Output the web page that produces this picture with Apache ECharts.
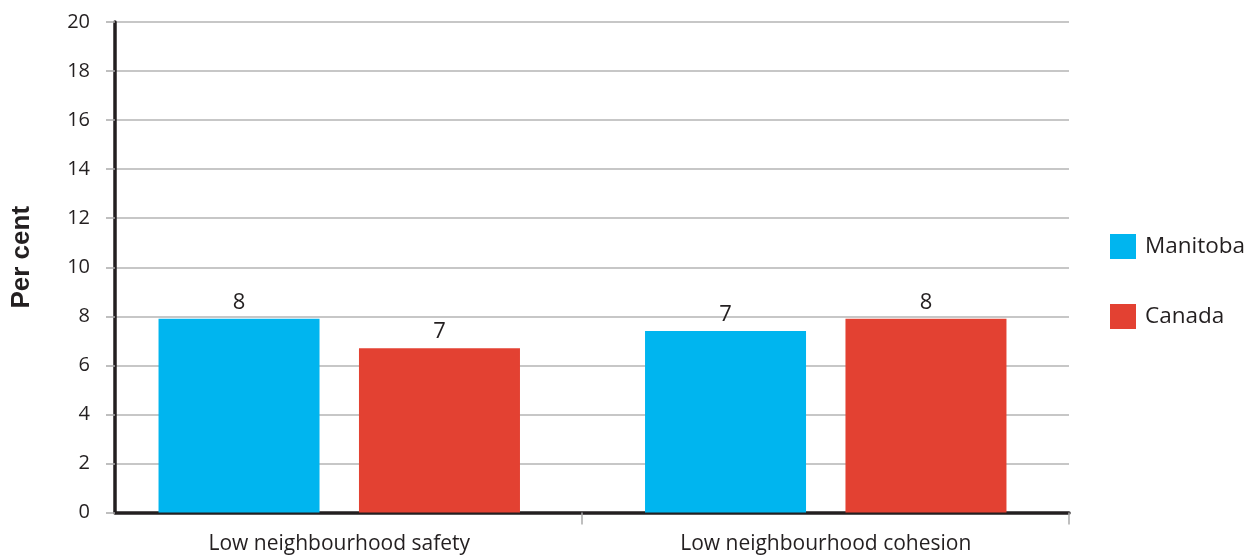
<!DOCTYPE html>
<html>
<head>
<meta charset="utf-8">
<script src="https://cdn.jsdelivr.net/npm/echarts@6/dist/echarts.min.js"></script>
<style>html,body{margin:0;padding:0;background:#fff}#c{width:1260px;height:557px}</style>
</head>
<body>
<div id="c"></div>
<script>
const categories = ['Low neighbourhood safety', 'Low neighbourhood cohesion'];
const seriesNames = ['Manitoba', 'Canada'];
const manitoba = [7.9, 7.4];
const canada = [6.7, 7.9];
const yTicks = [0, 2, 4, 6, 8, 10, 12, 14, 16, 18, 20];

const txt = '#231f20';
const font = '"Open Sans", Lato, sans-serif';
const chart = echarts.init(document.getElementById('c'), null, {renderer: 'canvas'});
const labelCfg = {
  show: true, position: 'top', distance: 5, color: txt, fontSize: 22, fontFamily: font,
  formatter: p => String(Math.round(p.value))
};
const yMin = yTicks[0], yMax = yTicks[yTicks.length - 1];
chart.setOption({
  animation: false,
  backgroundColor: '#fff',
  grid: [
    {left: 115, right: 191, top: 22, bottom: 44.5, containLabel: false},
    {left: 96, right: 191, top: 22, bottom: 44.5, containLabel: false},
    {left: 582, right: 191, top: 22, bottom: 44.5, containLabel: false}
  ],
  legend: {
    orient: 'vertical', left: 1105, top: 229, itemWidth: 26, itemHeight: 25, itemGap: 45,
    icon: 'rect',
    textStyle: {color: txt, fontSize: 22.5, fontFamily: font, padding: [0, 0, 0, 4]},
    data: seriesNames
  },
  xAxis: [
    {
      type: 'category', data: categories, gridIndex: 0,
      axisLine: {show: true, lineStyle: {color: txt, width: 3.5}},
      axisTick: {show: false},
      axisLabel: {show: false}
    },
    {
      type: 'category', data: categories, gridIndex: 1,
      axisLine: {show: false},
      axisTick: {show: false},
      axisLabel: {color: txt, fontSize: 21, fontFamily: font, margin: 21}
    },
    {
      type: 'category', data: [''], gridIndex: 2,
      axisLine: {show: false},
      axisTick: {show: true, length: 12, lineStyle: {color: '#aaaaaa', width: 1.5}},
      axisLabel: {show: false}
    }
  ],
  yAxis: [
    {
      type: 'value', gridIndex: 0, min: yMin, max: yMax, interval: 2,
      name: 'Per cent', nameLocation: 'middle', nameGap: 80,
      nameTextStyle: {color: txt, fontSize: 26, fontWeight: 'bold', fontFamily: '"Liberation Sans", Arial, sans-serif', padding: [0, 0, 0, 20]},
      axisLine: {show: true, lineStyle: {color: txt, width: 3.5}},
      axisTick: {show: true, length: 9, lineStyle: {color: '#aaaaaa', width: 1.5}},
      axisLabel: {color: txt, fontSize: 20, fontFamily: font, margin: 25},
      splitLine: {show: true, lineStyle: {color: '#b5b5b5', width: 1.5}}
    },
    {
      type: 'value', gridIndex: 1, min: yMin, max: yMax, interval: 2, show: false,
      splitLine: {show: false}
    },
    {
      type: 'value', gridIndex: 2, min: yMin, max: yMax, interval: 2, show: false,
      splitLine: {show: false}
    }
  ],
  series: [
    {name: seriesNames[0], type: 'bar', xAxisIndex: 1, yAxisIndex: 1, data: manitoba, barWidth: 161, barGap: '24.5%',
     itemStyle: {color: '#00b5ef'}, label: labelCfg},
    {name: seriesNames[1], type: 'bar', xAxisIndex: 1, yAxisIndex: 1, data: canada, barWidth: 161, barGap: '24.5%',
     itemStyle: {color: '#e34132'}, label: labelCfg}
  ]
});
</script>
</body>
</html>
